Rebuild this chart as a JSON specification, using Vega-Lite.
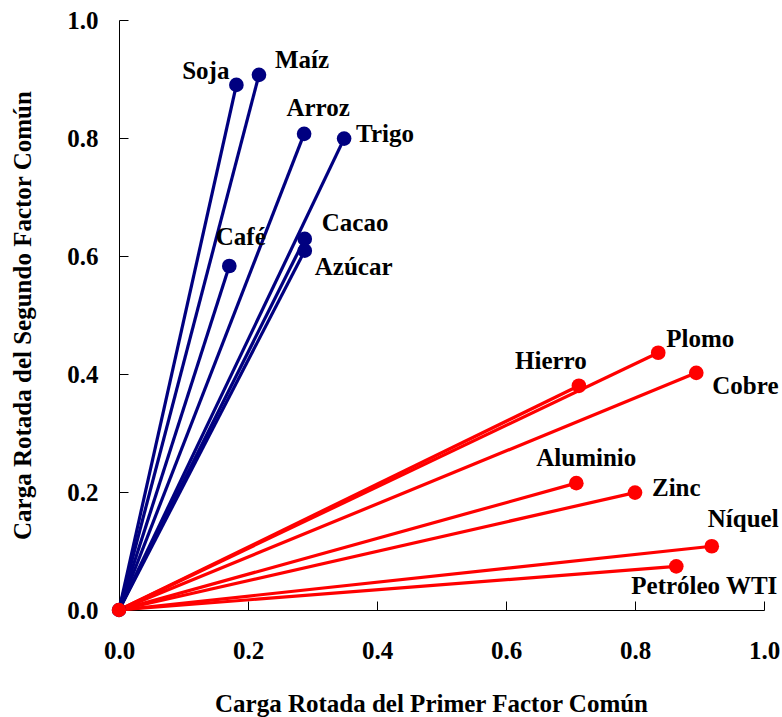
{
  "$schema": "https://vega.github.io/schema/vega-lite/v6.json",
  "width": 645,
  "height": 590,
  "autosize": {"type": "none"},
  "padding": {"left": 119, "top": 20, "right": 18, "bottom": 107},
  "background": "white",
  "config": {
    "view": {"stroke": null},
    "font": "Liberation Serif",
    "axis": {
      "grid": false,
      "domainColor": "black",
      "domainWidth": 1,
      "tickColor": "black",
      "tickWidth": 1,
      "tickSize": -9,
      "labelFont": "Liberation Serif",
      "labelFontSize": 25,
      "labelFontWeight": "bold",
      "labelColor": "black",
      "titleFont": "Liberation Serif",
      "titleFontSize": 25,
      "titleFontWeight": "bold",
      "titleColor": "black"
    }
  },
  "datasets": {
    "cargas": [
      {"nombre": "Soja", "grupo": "Agrícolas", "x": 0.182, "y": 0.890},
      {"nombre": "Maíz", "grupo": "Agrícolas", "x": 0.217, "y": 0.907},
      {"nombre": "Arroz", "grupo": "Agrícolas", "x": 0.287, "y": 0.807},
      {"nombre": "Trigo", "grupo": "Agrícolas", "x": 0.349, "y": 0.799},
      {"nombre": "Café", "grupo": "Agrícolas", "x": 0.171, "y": 0.583},
      {"nombre": "Cacao", "grupo": "Agrícolas", "x": 0.288, "y": 0.629},
      {"nombre": "Azúcar", "grupo": "Agrícolas", "x": 0.288, "y": 0.609},
      {"nombre": "Plomo", "grupo": "Metales y Energía", "x": 0.836, "y": 0.436},
      {"nombre": "Cobre", "grupo": "Metales y Energía", "x": 0.895, "y": 0.402},
      {"nombre": "Hierro", "grupo": "Metales y Energía", "x": 0.713, "y": 0.380},
      {"nombre": "Aluminio", "grupo": "Metales y Energía", "x": 0.709, "y": 0.215},
      {"nombre": "Zinc", "grupo": "Metales y Energía", "x": 0.800, "y": 0.199},
      {"nombre": "Níquel", "grupo": "Metales y Energía", "x": 0.919, "y": 0.108},
      {"nombre": "Petróleo WTI", "grupo": "Metales y Energía", "x": 0.864, "y": 0.074}
    ],
    "origen": [
      {"grupo": "Agrícolas", "x": 0, "y": 0},
      {"grupo": "Metales y Energía", "x": 0, "y": 0}
    ]
  },
  "data": {"name": "cargas"},
  "encoding": {
    "x": {
      "field": "x", "type": "quantitative",
      "scale": {"domain": [0, 1], "nice": false, "zero": true},
      "axis": {
        "title": "Carga Rotada del Primer Factor Común",
        "values": [0, 0.2, 0.4, 0.6, 0.8, 1.0],
        "format": ".1f",
        "labelBaseline": "alphabetic",
        "labelPadding": 57,
        "labelFlush": false,
        "titleX": 312,
        "titleY": 101,
        "titleBaseline": "alphabetic",
        "titleAlign": "center",
        "titleAnchor": null
      }
    },
    "y": {
      "field": "y", "type": "quantitative",
      "scale": {"domain": [0, 1], "nice": false},
      "axis": {
        "title": "Carga Rotada del Segundo Factor Común",
        "values": [0, 0.2, 0.4, 0.6, 0.8, 1.0],
        "format": ".1f",
        "labelPadding": 30,
        "labelBaseline": "middle",
        "labelFlush": false,
        "titleX": -97,
        "titleBaseline": "middle"
      }
    },
    "color": {
      "field": "grupo", "type": "nominal",
      "scale": {"domain": ["Agrícolas", "Metales y Energía"], "range": ["#000080", "#FF0000"]},
      "legend": null
    }
  },
  "layer": [
    {
      "mark": {"type": "rule", "strokeWidth": 3.2},
      "encoding": {"x2": {"datum": 0}, "y2": {"datum": 0}}
    },
    {
      "mark": {"type": "point", "filled": true, "opacity": 1, "size": 215, "shape": "circle"}
    },
    {
      "data": {"name": "origen"},
      "mark": {"type": "point", "filled": true, "opacity": 1, "size": 210, "shape": "circle"}
    },
    {
      "transform": [{"filter": "datum.nombre === 'Soja'"}],
      "mark": {"type": "text", "align": "right", "baseline": "alphabetic", "dx": -7, "dy": -6, "font": "Liberation Serif", "fontSize": 25, "fontWeight": "bold"},
      "encoding": {"text": {"field": "nombre"}, "color": {"value": "black"}}
    },
    {
      "transform": [{"filter": "datum.nombre === 'Maíz'"}],
      "mark": {"type": "text", "align": "left", "baseline": "alphabetic", "dx": 16, "dy": -7, "font": "Liberation Serif", "fontSize": 25, "fontWeight": "bold"},
      "encoding": {"text": {"field": "nombre"}, "color": {"value": "black"}}
    },
    {
      "transform": [{"filter": "datum.nombre === 'Arroz'"}],
      "mark": {"type": "text", "align": "center", "baseline": "alphabetic", "dx": 14, "dy": -18, "font": "Liberation Serif", "fontSize": 25, "fontWeight": "bold"},
      "encoding": {"text": {"field": "nombre"}, "color": {"value": "black"}}
    },
    {
      "transform": [{"filter": "datum.nombre === 'Trigo'"}],
      "mark": {"type": "text", "align": "left", "baseline": "alphabetic", "dx": 12, "dy": 3, "font": "Liberation Serif", "fontSize": 25, "fontWeight": "bold"},
      "encoding": {"text": {"field": "nombre"}, "color": {"value": "black"}}
    },
    {
      "transform": [{"filter": "datum.nombre === 'Café'"}],
      "mark": {"type": "text", "align": "center", "baseline": "alphabetic", "dx": 11.5, "dy": -21, "font": "Liberation Serif", "fontSize": 25, "fontWeight": "bold"},
      "encoding": {"text": {"field": "nombre"}, "color": {"value": "black"}}
    },
    {
      "transform": [{"filter": "datum.nombre === 'Cacao'"}],
      "mark": {"type": "text", "align": "left", "baseline": "alphabetic", "dx": 17, "dy": -8, "font": "Liberation Serif", "fontSize": 25, "fontWeight": "bold"},
      "encoding": {"text": {"field": "nombre"}, "color": {"value": "black"}}
    },
    {
      "transform": [{"filter": "datum.nombre === 'Azúcar'"}],
      "mark": {"type": "text", "align": "left", "baseline": "alphabetic", "dx": 10, "dy": 24, "font": "Liberation Serif", "fontSize": 25, "fontWeight": "bold"},
      "encoding": {"text": {"field": "nombre"}, "color": {"value": "black"}}
    },
    {
      "transform": [{"filter": "datum.nombre === 'Plomo'"}],
      "mark": {"type": "text", "align": "left", "baseline": "alphabetic", "dx": 8, "dy": -6, "font": "Liberation Serif", "fontSize": 25, "fontWeight": "bold"},
      "encoding": {"text": {"field": "nombre"}, "color": {"value": "black"}}
    },
    {
      "transform": [{"filter": "datum.nombre === 'Cobre'"}],
      "mark": {"type": "text", "align": "left", "baseline": "alphabetic", "dx": 16, "dy": 21, "font": "Liberation Serif", "fontSize": 25, "fontWeight": "bold"},
      "encoding": {"text": {"field": "nombre"}, "color": {"value": "black"}}
    },
    {
      "transform": [{"filter": "datum.nombre === 'Hierro'"}],
      "mark": {"type": "text", "align": "center", "baseline": "alphabetic", "dx": -28, "dy": -17, "font": "Liberation Serif", "fontSize": 25, "fontWeight": "bold"},
      "encoding": {"text": {"field": "nombre"}, "color": {"value": "black"}}
    },
    {
      "transform": [{"filter": "datum.nombre === 'Aluminio'"}],
      "mark": {"type": "text", "align": "center", "baseline": "alphabetic", "dx": 10, "dy": -17, "font": "Liberation Serif", "fontSize": 25, "fontWeight": "bold"},
      "encoding": {"text": {"field": "nombre"}, "color": {"value": "black"}}
    },
    {
      "transform": [{"filter": "datum.nombre === 'Zinc'"}],
      "mark": {"type": "text", "align": "left", "baseline": "alphabetic", "dx": 17, "dy": 3, "font": "Liberation Serif", "fontSize": 25, "fontWeight": "bold"},
      "encoding": {"text": {"field": "nombre"}, "color": {"value": "black"}}
    },
    {
      "transform": [{"filter": "datum.nombre === 'Níquel'"}],
      "mark": {"type": "text", "align": "left", "baseline": "alphabetic", "dx": -4, "dy": -19, "font": "Liberation Serif", "fontSize": 25, "fontWeight": "bold"},
      "encoding": {"text": {"field": "nombre"}, "color": {"value": "black"}}
    },
    {
      "transform": [{"filter": "datum.nombre === 'Petróleo WTI'"}],
      "mark": {"type": "text", "align": "center", "baseline": "alphabetic", "dx": 28, "dy": 28, "font": "Liberation Serif", "fontSize": 25, "fontWeight": "bold"},
      "encoding": {"text": {"field": "nombre"}, "color": {"value": "black"}}
    }
  ]
}
